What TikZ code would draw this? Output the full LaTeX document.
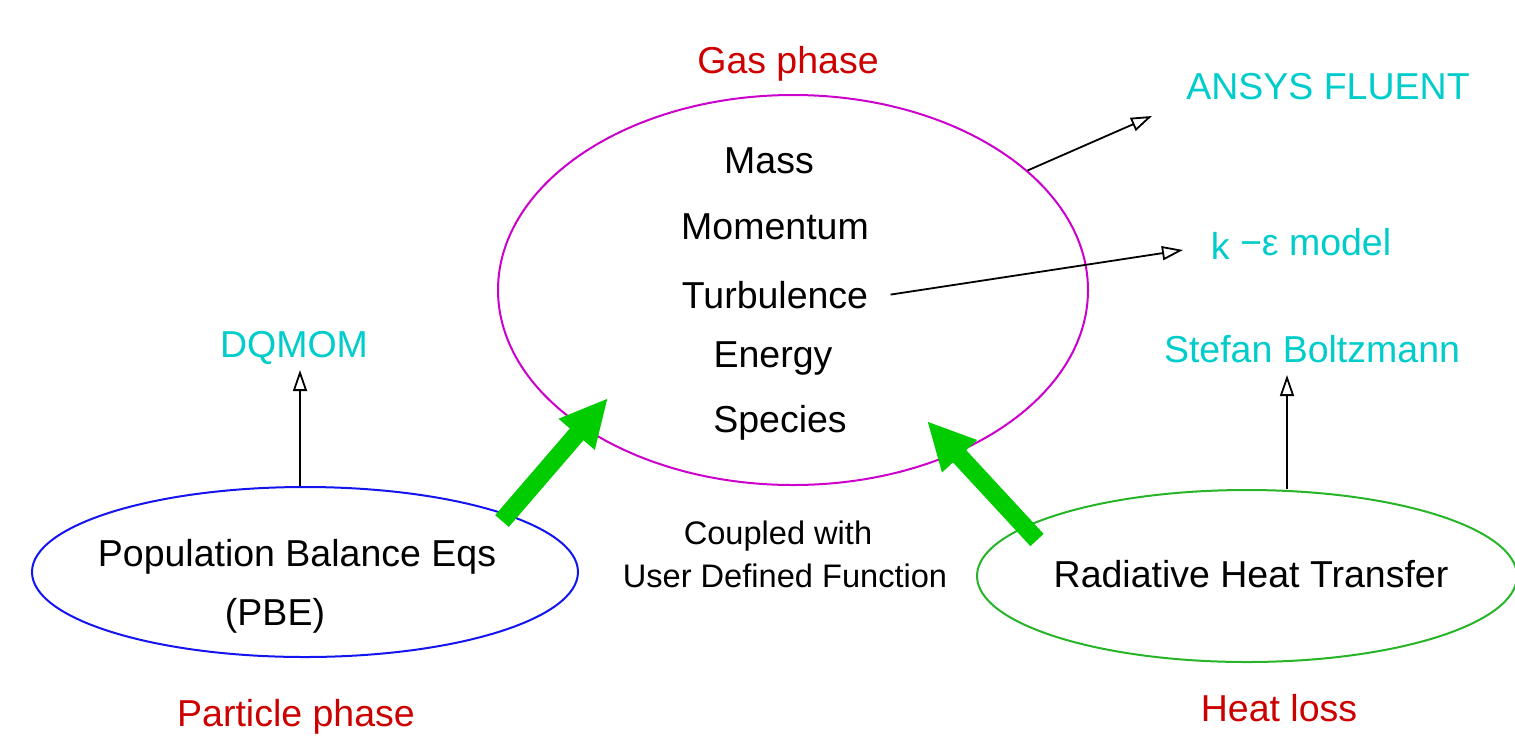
\documentclass[tikz,border=0pt]{standalone}
\usepackage{fontspec}
\setmainfont{Liberation Sans}
\usetikzlibrary{shapes.geometric,arrows.meta}
\definecolor{gasmag}{RGB}{204,0,204}
\definecolor{pbeblue}{RGB}{20,20,240}
\definecolor{radgreen}{RGB}{40,180,40}
\definecolor{bigarrowgreen}{RGB}{0,204,0}
\definecolor{labcyan}{RGB}{0,204,204}
\definecolor{labred}{RGB}{204,0,0}
\tikzset{
  txt/.style={inner sep=0pt, anchor=base, font=\fontsize{18.75}{22}\selectfont},
  smalltxt/.style={inner sep=0pt, anchor=base, font=\fontsize{16.3}{20}\selectfont},
  cyanlab/.style={txt, text=labcyan},
  redlab/.style={txt, text=labred},
  oval/.style={draw, ellipse, inner sep=0pt, line width=1pt},
  thinarrow/.style={draw=black, line width=0.9pt, -{Triangle[open, length=10.5pt, width=7pt]}},
  bigarrow/.style={draw=bigarrowgreen, line width=9pt, -{Triangle[length=24pt, width=22pt]}, bigarrowgreen}
}
\begin{document}
\begin{tikzpicture}[x=0.5pt,y=-0.5pt]
\useasboundingbox (0,0) rectangle (1515,735);
% ellipses
\node[oval, draw=gasmag, minimum width=295pt, minimum height=195pt] (gas) at (793,290) {};
\node[oval, draw=pbeblue, minimum width=273pt, minimum height=85pt] (pbe) at (305,572) {};
\node[oval, draw=radgreen, minimum width=270pt, minimum height=86pt] (rad) at (1247,576) {};
% gas phase contents
\node[redlab] (gaslab) at (788,73) {Gas phase};
\node[txt] (mass) at (769,173) {Mass};
\node[txt] (mom) at (775,239) {Momentum};
\node[txt] (turb) at (775,308) {Turbulence};
\node[txt] (energy) at (773,367) {Energy};
\node[txt] (species) at (780,432) {Species};
% labels
\node[cyanlab] (ansys) at (1328,99) {ANSYS FLUENT};
\node[cyanlab] (keps) at (1301,255) {\raisebox{-2pt}{k} −ε model};
\node[cyanlab] (dqmom) at (294,357) {DQMOM};
\node[cyanlab] (sb) at (1312,362) {Stefan Boltzmann};
\node[txt] (pbetxt) at (297,566) {Population Balance Eqs};
\node[txt] (pbeabbr) at (275,625) {(PBE)};
\node[smalltxt] (coupled) at (778,544) {Coupled with};
\node[smalltxt] (udf) at (785,587) {User Defined Function};
\node[txt] (radtxt) at (1251,587) {Radiative Heat Transfer};
\node[redlab] (partlab) at (296,726) {Particle phase};
\node[redlab] (heatlab) at (1279,721) {Heat loss};
% connector end points
\coordinate (ansysend) at (1152,116);
\coordinate (kend) at (1183,250);
\coordinate (dqend) at (300,370);
\coordinate (sbend) at (1287,375);
\coordinate (leftgtail) at (502,521);
\coordinate (leftgtip) at (608,398);
\coordinate (rightgtail) at (1037,540);
\coordinate (rightgtip) at (927,421);
% thin arrows
\draw[thinarrow] (gas.27.5) -- (ansysend);
\draw[thinarrow] ([xshift=11pt]turb.east) -- (kend);
\draw[thinarrow] (dqend |- pbe.north) -- (dqend);
\draw[thinarrow] (sbend |- rad.north) -- (sbend);
% big green arrows
\draw[bigarrow] (leftgtail) -- (leftgtip);
\draw[bigarrow] (rightgtail) -- (rightgtip);
\end{tikzpicture}
\end{document}
